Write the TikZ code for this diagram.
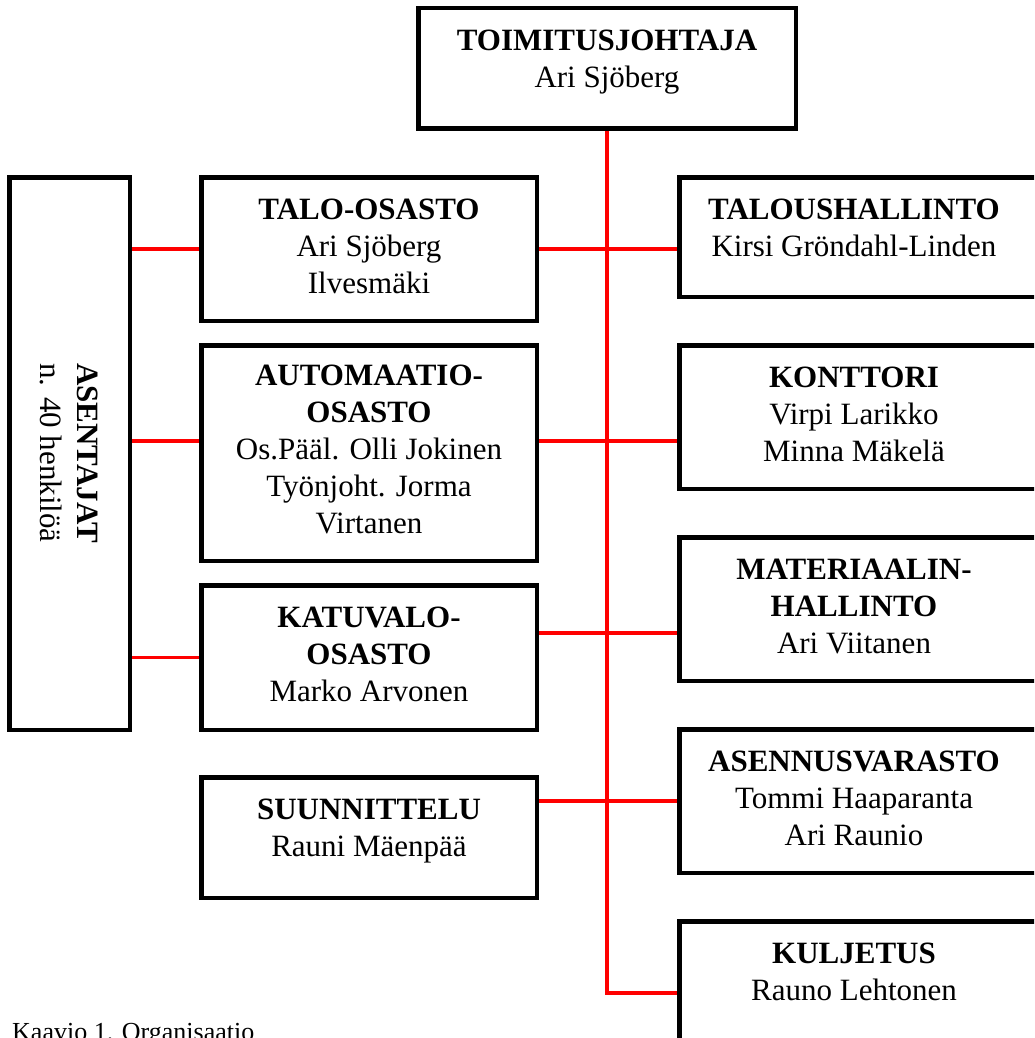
\documentclass[tikz,border=0pt]{standalone}
\usepackage{fontspec}
\setmainfont{Liberation Serif}
\usetikzlibrary{backgrounds}
\tikzset{
  box/.style={rectangle, draw=black, line width=4.5pt, inner sep=0pt},
  lbox/.style={box, minimum width=335.5pt},
  rbox/.style={box, minimum width=368.5pt},
  conn/.style={draw=red, line width=3.6pt},
  txt/.style={align=center, inner sep=0pt, anchor=base, font=\fontsize{31}{37}\selectfont},
}
\begin{document}
\begin{tikzpicture}[x=1pt,y=-1pt]
\useasboundingbox (0,0) rectangle (1034,1038);
\clip (0,0) rectangle (1034,1038);
% boxes
\node[box, minimum width=377.5pt, minimum height=120.5pt] (top) at (607,68.5) {};
\node[box, minimum width=120.5pt, minimum height=552.5pt] (asentajat) at (69.5,453.5) {};
\node[lbox, minimum height=143.5pt] (talo) at (369,249) {};
\node[lbox, minimum height=215.5pt] (automaatio) at (369,453) {};
\node[lbox, minimum height=144.5pt] (katuvalo) at (369,657.5) {};
\node[lbox, minimum height=120.5pt] (suunnittelu) at (369,837.5) {};
\node[rbox, minimum height=119.5pt] (talous) at (863.5,237) {};
\node[rbox, minimum height=143.5pt] (konttori) at (863.5,417) {};
\node[rbox, minimum height=143.5pt] (materiaalin) at (863.5,609) {};
\node[rbox, minimum height=143.5pt] (asennus) at (863.5,801) {};
\node[rbox, minimum height=143.5pt] (kuljetus) at (863.5,993) {};
% texts (anchor = baseline of the last line)
\node[txt] (top-t) at (607,88) {\textbf{TOIMITUSJOHTAJA}\\Ari Sjöberg};
\node[txt] (talo-t) at (369,293) {\textbf{TALO-OSASTO}\\Ari Sjöberg\\Ilvesmäki};
\node[txt] (automaatio-t) at (369,533) {\textbf{AUTOMAATIO-}\\\textbf{OSASTO}\\Os.Pääl. Olli Jokinen\\Työnjoht. Jorma\\Virtanen};
\node[txt] (katuvalo-t) at (369,701) {\textbf{KATUVALO-}\\\textbf{OSASTO}\\Marko Arvonen};
\node[txt] (suunnittelu-t) at (369,856) {\textbf{SUUNNITTELU}\\Rauni Mäenpää};
\node[txt] (talous-t) at (854,256) {\textbf{TALOUSHALLINTO}\\Kirsi Gröndahl-Linden};
\node[txt] (konttori-t) at (854,461) {\textbf{KONTTORI}\\Virpi Larikko\\Minna Mäkelä};
\node[txt] (materiaalin-t) at (854,653) {\textbf{MATERIAALIN-}\\\textbf{HALLINTO}\\Ari Viitanen};
\node[txt] (asennus-t) at (854,845) {\textbf{ASENNUSVARASTO}\\Tommi Haaparanta\\Ari Raunio};
\node[txt] (kuljetus-t) at (854,1000) {\textbf{KULJETUS}\\Rauno Lehtonen};
\node[txt, rotate=-90] (asentajat-t) at (40,453) {\textbf{ASENTAJAT}\\n. 40 henkilöä};
\node[inner sep=0pt, anchor=base west, font=\fontsize{26}{30}\selectfont] (caption) at (12,1040) {Kaavio 1. Organisaatio};
% junction coordinates
\coordinate (jA) at ([yshift=12pt]automaatio.west);
\coordinate (jB) at ([yshift=12pt]automaatio.east);
\coordinate (jC) at ([yshift=24.5pt]katuvalo.east);
% connectors
\begin{scope}[on background layer]
\draw[conn] (top.south) -- (top.south |- kuljetus.west) -- (kuljetus.west);
\draw[conn] (asentajat.east |- talo.west) -- (talo.west);
\draw[conn] (talo.east) -- (talous.west |- talo.east);
\draw[conn] (asentajat.east |- jA) -- (jA);
\draw[conn] (jB) -- (konttori.west |- jB);
\draw[conn] (asentajat.east |- katuvalo.west) -- (katuvalo.west);
\draw[conn] (jC) -- (materiaalin.west |- jC);
\draw[conn] (suunnittelu.east |- asennus.west) -- (asennus.west);
\end{scope}
\end{tikzpicture}
\end{document}
